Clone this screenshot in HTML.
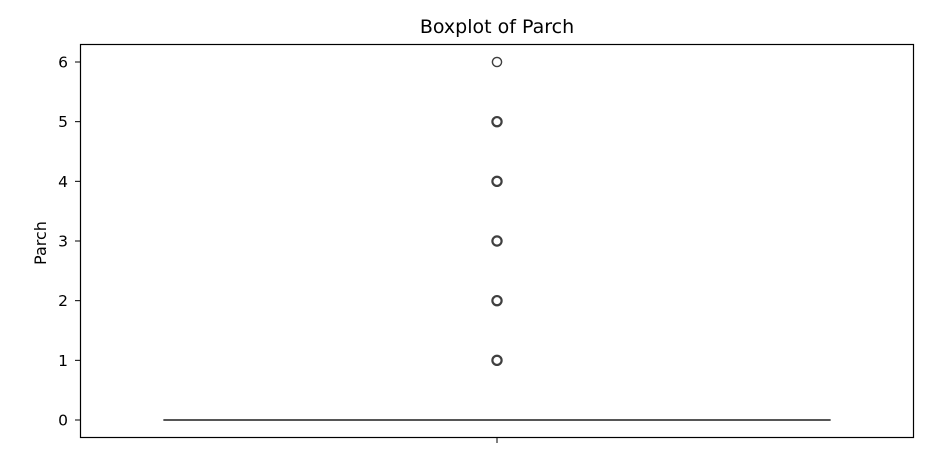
<!DOCTYPE html>
<html><head><meta charset="utf-8"><style>
body{margin:0;background:#fff;}
svg text{font-family:"DejaVu Sans","Liberation Sans",sans-serif;fill:#000;}
</style></head><body>
<svg width="940" height="461" viewBox="0 0 940 461" xmlns="http://www.w3.org/2000/svg">
<text x="497" y="33" font-size="19" text-anchor="middle">Boxplot of Parch</text>
<text transform="translate(46,243) rotate(-90)" font-size="16" text-anchor="middle">Parch</text>
<g id="ticks"></g>
<g id="marks"></g>
<rect x="80.5" y="44.5" width="833" height="393" fill="none" stroke="#000" stroke-width="1.2"/>
</svg>
<script>
const yTicks=[0,1,2,3,4,5,6];
const stats={q1:0,median:0,q3:0,whiskerLow:0,whiskerHigh:0};
const outliers=[1,2,3,4,5,6];
const outlierCounts=[118,80,5,4,5,1];
const ns="http://www.w3.org/2000/svg";
const y=v=>420-v*(420-62)/6;
const cx=497, halfW=333;
const tg=document.getElementById('ticks'), mg=document.getElementById('marks');
function mk(tag,attrs,parent){const e=document.createElementNS(ns,tag);for(const k in attrs)e.setAttribute(k,attrs[k]);parent.appendChild(e);return e;}
yTicks.forEach(t=>{
  const l=mk('line',{x1:75,x2:80,y1:y(t),y2:y(t),stroke:'#000','stroke-width':1},tg);
  
  
  const tx=mk('text',{x:68,y:y(t)+5.5,'font-size':15.5,'text-anchor':'end'},tg);
  tx.textContent=t;
  
  
});
const xt=mk('line',{x1:cx,x2:cx,y1:438,y2:443,stroke:'#000','stroke-width':1},tg);


const box=mk('rect',{x:cx-halfW,y:y(stats.q3),width:2*halfW,height:Math.max(0.01,y(stats.q1)-y(stats.q3)),fill:'none',stroke:'#3f3f3f','stroke-width':1.5},mg);


const med=mk('line',{x1:cx-halfW,x2:cx+halfW,y1:y(stats.median),y2:y(stats.median),stroke:'#3f3f3f','stroke-width':1.5},mg);


outliers.forEach((v,i)=>{
  const c=mk('circle',{cx:cx,cy:y(v),r:4.6,fill:'none',stroke:'#3f3f3f','stroke-width':outlierCounts[i]>1?2.2:1.4},mg);
  
  
});
</script>
</body></html>
